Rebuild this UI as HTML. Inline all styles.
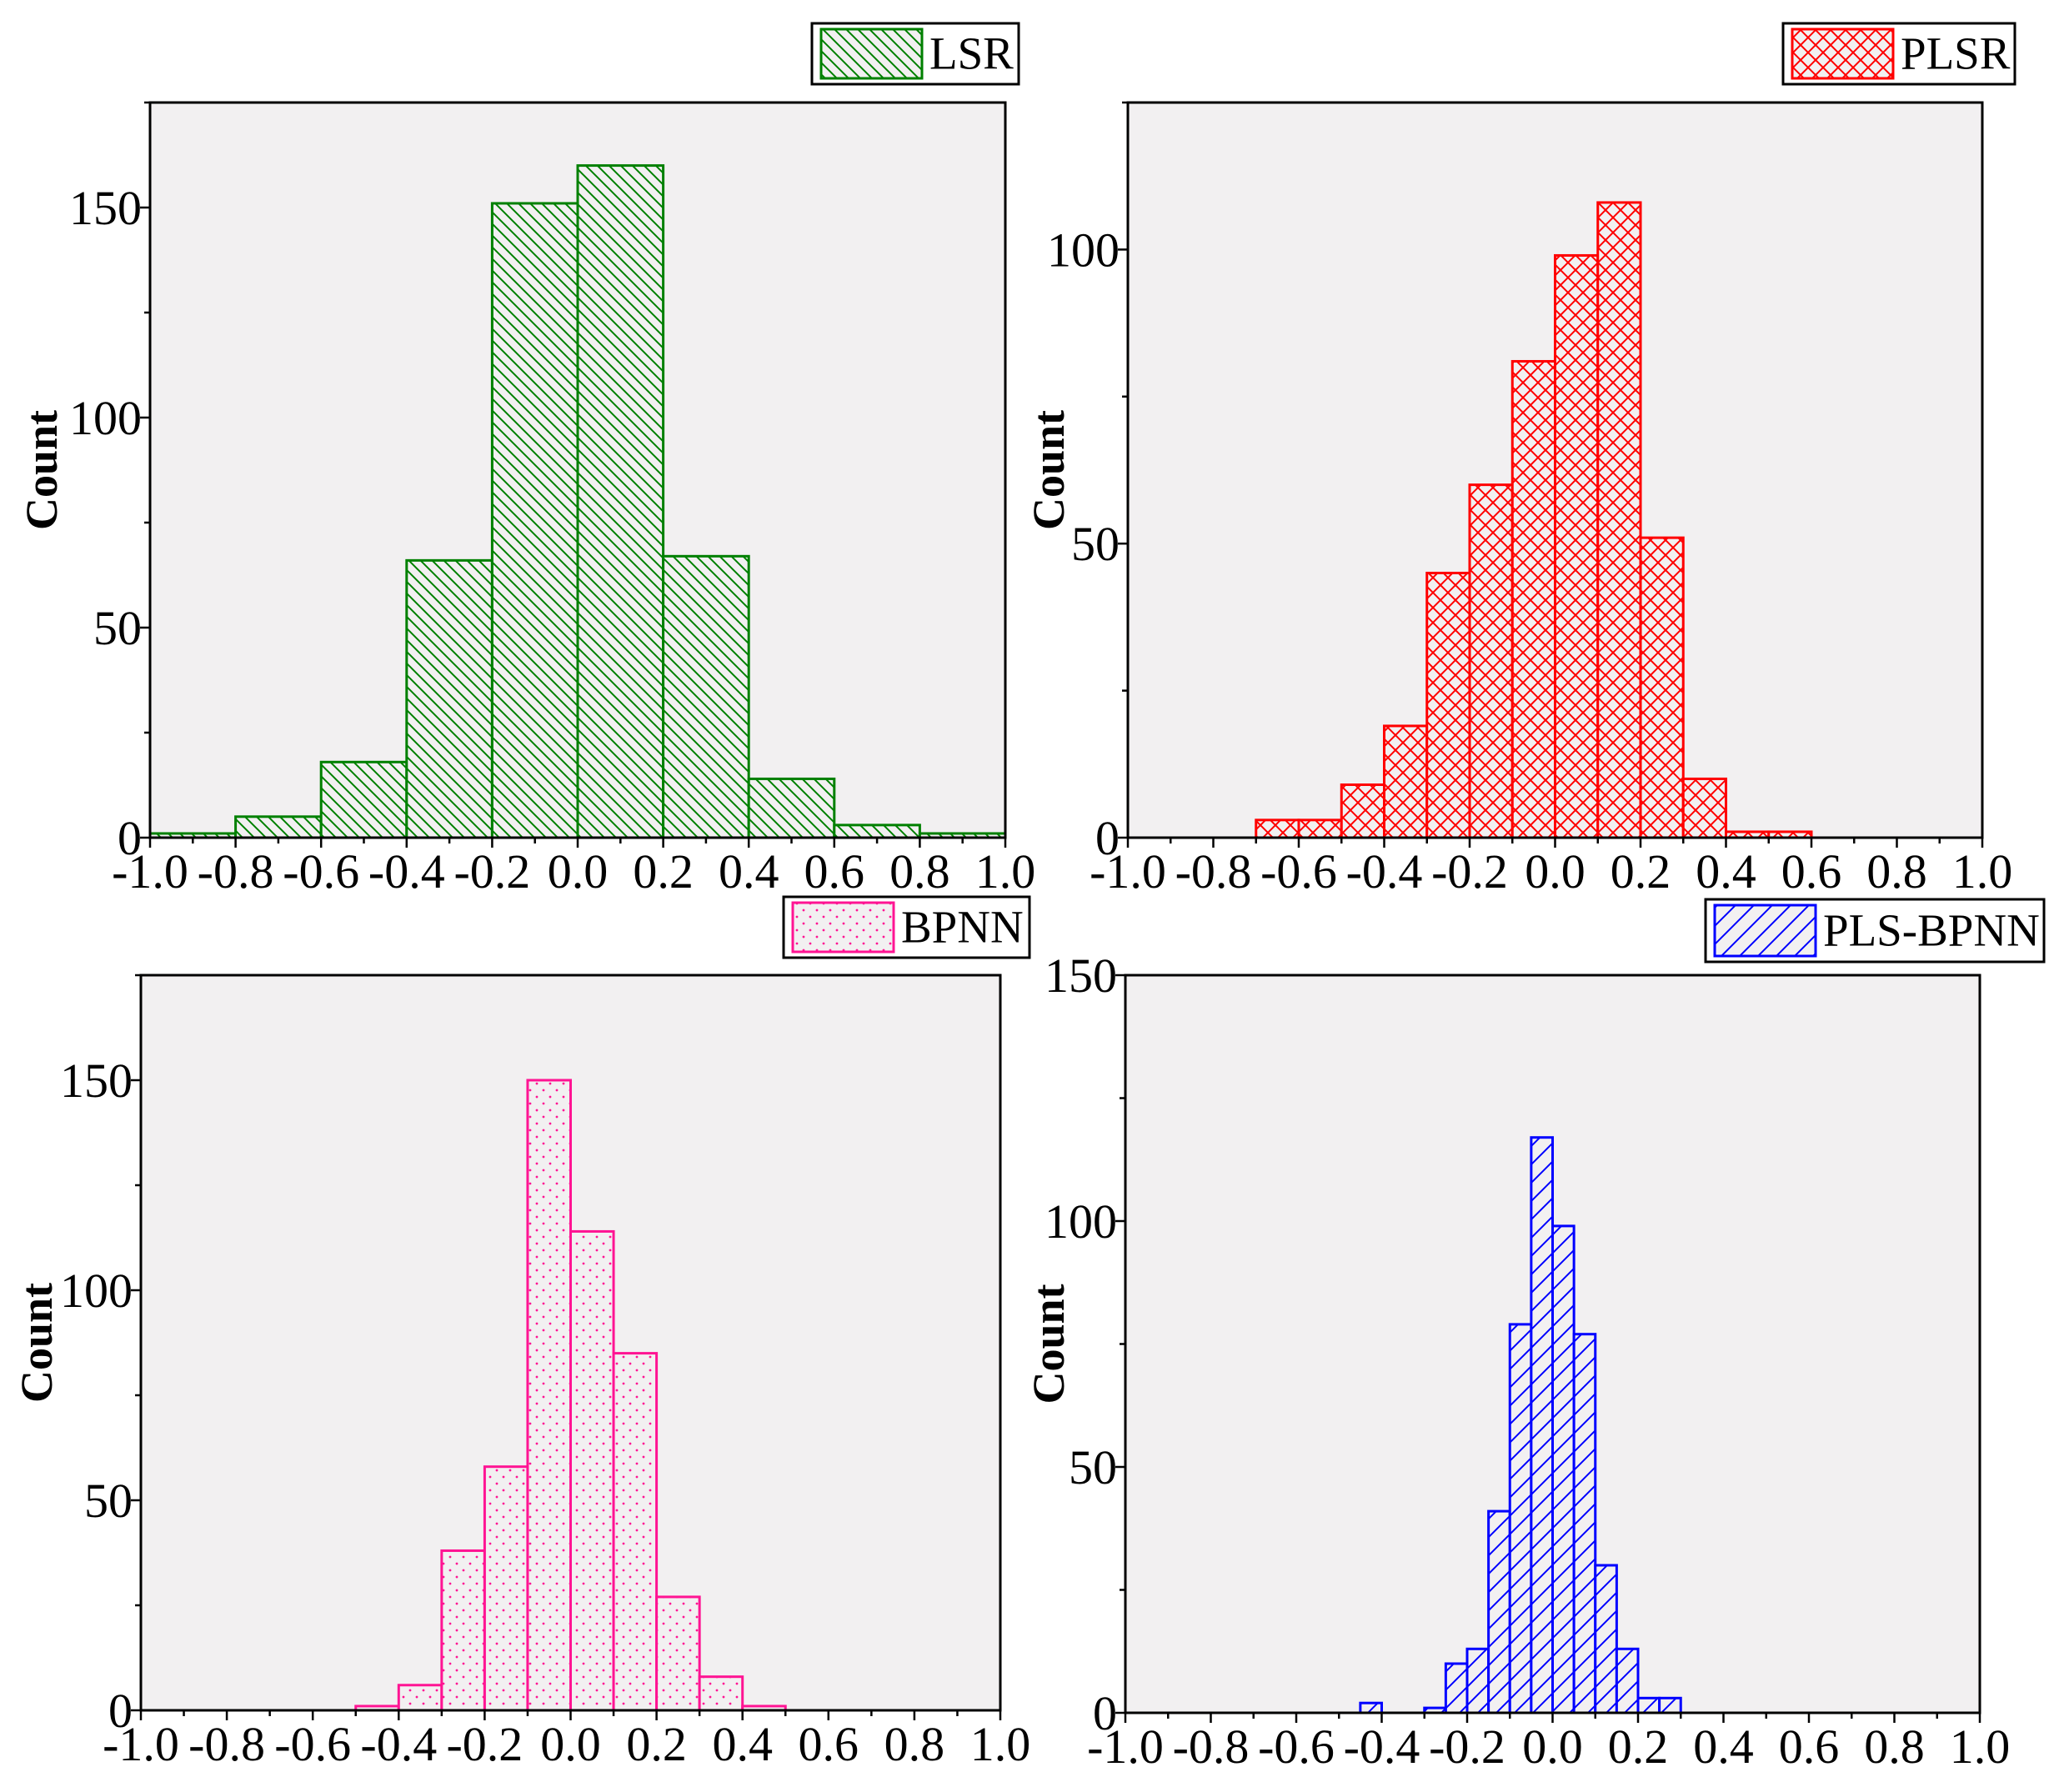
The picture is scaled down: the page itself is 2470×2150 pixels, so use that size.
<!DOCTYPE html>
<html><head><meta charset="utf-8"><style>
html,body{margin:0;padding:0;background:#fff;}
svg{display:block;font-family:"Liberation Serif",serif;}
</style></head><body>
<svg id="root" width="2470" height="2150" viewBox="0 0 2470 2150" xmlns="http://www.w3.org/2000/svg">
<defs>
<pattern id="pLSR" patternUnits="userSpaceOnUse" width="14" height="14"><rect width="14" height="14" fill="#f2f0f1"/><path d="M-2,-2 L16,16 M-9,5 L9,23 M5,-9 L23,9" stroke="#008000" stroke-width="2"/></pattern>
<pattern id="pPLSR" patternUnits="userSpaceOnUse" width="18" height="18"><rect width="18" height="18" fill="#f2f0f1"/><path d="M-2,-2 L20,20 M-2,20 L20,-2 M-11,7 L11,29 M7,-11 L29,11 M-11,11 L11,-11 M7,29 L29,7" stroke="#ff0000" stroke-width="2"/></pattern>
<pattern id="pBPNN" patternUnits="userSpaceOnUse" width="16" height="16"><rect width="16" height="16" fill="#f2f0f1"/><circle cx="4" cy="4" r="1.4" fill="#ff1493"/><circle cx="12" cy="12" r="1.4" fill="#ff1493"/></pattern>
<pattern id="pPLS" patternUnits="userSpaceOnUse" width="22" height="22"><rect width="22" height="22" fill="#f2f0f1"/><path d="M-2,24 L24,-2 M-13,13 L13,-13 M9,35 L35,9" stroke="#0000ff" stroke-width="2"/></pattern>
</defs>
</svg>
<script>
// ---- data ----
const lsrEdges = [-1.0,-0.8,-0.6,-0.4,-0.2,0.0,0.2,0.4,0.6,0.8,1.0];
const lsrCounts = [1,5,18,66,151,160,67,14,3,1];
const plsrEdges = [-0.7,-0.6,-0.5,-0.4,-0.3,-0.2,-0.1,0.0,0.1,0.2,0.3,0.4,0.5,0.6];
const plsrCounts = [3,3,9,19,45,60,81,99,108,51,10,1,1];
const bpnnEdges = [-0.5,-0.4,-0.3,-0.2,-0.1,0.0,0.1,0.2,0.3,0.4,0.5];
const bpnnCounts = [1,6,38,58,150,114,85,27,8,1];
const plsBpnnEdges = [-0.45,-0.4,-0.35,-0.3,-0.25,-0.2,-0.15,-0.1,-0.05,0.0,0.05,0.1,0.15,0.2,0.25,0.3];
const plsBpnnCounts = [2,0,0,1,10,13,41,79,117,99,77,30,13,3,3];
const xTickLabels = ["-1.0","-0.8","-0.6","-0.4","-0.2","0.0","0.2","0.4","0.6","0.8","1.0"];
const yTicksA = [0,50,100,150];
const yTicksB = [0,50,100];

const NS="http://www.w3.org/2000/svg";
const root=document.getElementById('root');
function mk(tag,attrs,parent){const e=document.createElementNS(NS,tag);for(const k in attrs)e.setAttribute(k,attrs[k]);(parent||root).appendChild(e);return e;}

function panel(cfg){
  const g=mk('g',{});
  
  
  const L=cfg.x0,R=cfg.x1,T=cfg.y0,B=cfg.y1;
  const xs=v=>L+(v+1)/2*(R-L);
  const ys=v=>B-v/cfg.ymax*(B-T);
  const bg=mk('rect',{x:L,y:T,width:R-L,height:B-T,fill:'#f2f0f1'},g);
  
  
  for(let i=0;i<cfg.counts.length;i++){
    const c=cfg.counts[i]; if(c<=0) continue;
    const x0=xs(cfg.edges[i]),x1=xs(cfg.edges[i+1]);
    const r=mk('rect',{x:x0,y:ys(c),width:x1-x0,height:ys(0)-ys(c),fill:'url(#'+cfg.pat+')',stroke:cfg.color,'stroke-width':3},g);
    
    
  }
  mk('rect',{x:L,y:T,width:R-L,height:B-T,fill:'none',stroke:'#000','stroke-width':3},g);
  for(let v=0;v<=cfg.ymax;v+=25){
    const major=v%50===0;
    mk('line',{x1:L,x2:L-(major?12:7),y1:ys(v),y2:ys(v),stroke:'#000','stroke-width':2.5},g);
  }
  cfg.yticks.forEach(v=>{
    const t=mk('text',{x:L-10,y:ys(v)+20,'text-anchor':'end','font-size':58,fill:'#000'},g);
    t.textContent=v;
    
    
  });
  for(let k=0;k<=20;k++){
    const v=-1+k*0.1, major=k%2===0;
    mk('line',{x1:xs(v),x2:xs(v),y1:B,y2:B+(major?12:7),stroke:'#000','stroke-width':2.5},g);
  }
  xTickLabels.forEach((s,k)=>{
    const t=mk('text',{x:xs(-1+k*0.2),y:B+60,'text-anchor':'middle','font-size':58,fill:'#000'},g);
    t.textContent=s;
    
    
  });
  const yt=mk('text',{x:0,y:0,'text-anchor':'middle','font-size':54,'font-weight':'bold',fill:'#000',transform:'translate('+cfg.titleX+','+((T+B)/2)+') rotate(-90)'},g);
  yt.textContent='Count';
  
  
  const lg=mk('g',{},g);
  
  
  const [lx,ly,lw,lh]=cfg.leg;
  mk('rect',{x:lx,y:ly,width:lw,height:lh,fill:'#fff',stroke:'#000','stroke-width':3},lg);
  mk('rect',{x:lx+11,y:ly+7,width:121,height:lh-14,fill:'url(#'+cfg.pat+')',stroke:cfg.color,'stroke-width':3},lg);
  const lt=mk('text',{x:lx+141,y:ly+lh/2+18,'font-size':55,fill:'#000'},lg);
  lt.textContent=cfg.label;
  
  
}

panel({name:'lsr',label:'LSR',edges:lsrEdges,counts:lsrCounts,pat:'pLSR',color:'#008000',x0:180,x1:1206,y0:123,y1:1005,ymax:175,yticks:yTicksA,titleX:68,leg:[974,28,248,73]});
panel({name:'plsr',label:'PLSR',edges:plsrEdges,counts:plsrCounts,pat:'pPLSR',color:'#ff0000',x0:1353,x1:2378,y0:123,y1:1005,ymax:125,yticks:yTicksB,titleX:1276,leg:[2139,28,278,73]});
panel({name:'bpnn',label:'BPNN',edges:bpnnEdges,counts:bpnnCounts,pat:'pBPNN',color:'#ff1493',x0:169,x1:1200,y0:1170,y1:2052,ymax:175,yticks:yTicksA,titleX:62,leg:[940,1076,295,73]});
panel({name:'pls-bpnn',label:'PLS-BPNN',edges:plsBpnnEdges,counts:plsBpnnCounts,pat:'pPLS',color:'#0000ff',x0:1350,x1:2375,y0:1170,y1:2055,ymax:150,yticks:yTicksA,titleX:1276,leg:[2046,1079,406,75]});
</script>
</body></html>
